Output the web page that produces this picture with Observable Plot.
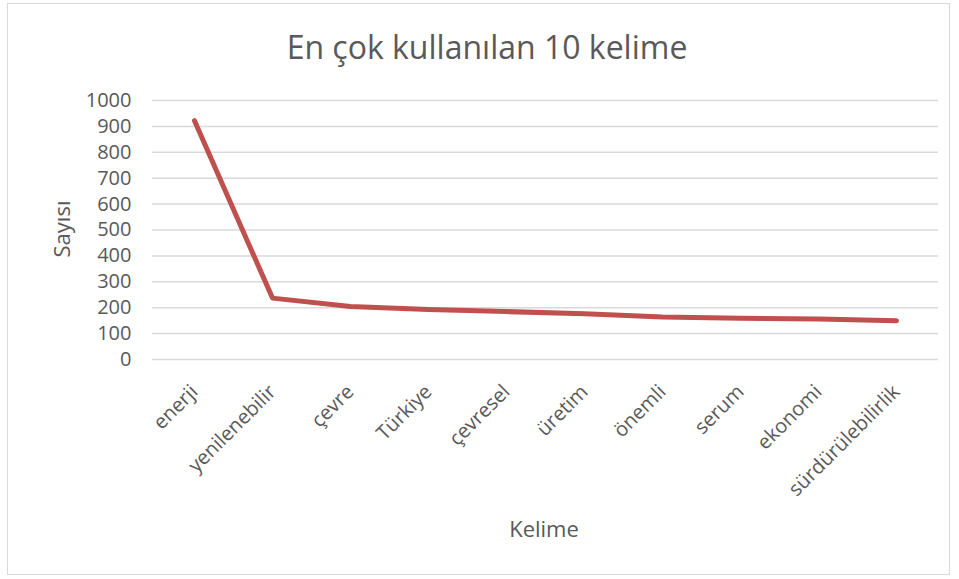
<!DOCTYPE html>
<html>
<head>
<meta charset="utf-8">
<script src="https://cdn.jsdelivr.net/npm/d3@7"></script>
<script src="https://cdn.jsdelivr.net/npm/@observablehq/plot@0.6"></script>
<style>
  html, body { margin: 0; padding: 0; background: #fff; }
  #wrap { position: relative; width: 959px; height: 579px; overflow: hidden; font-family: "Open Sans", sans-serif; color: #595959; }
  #border { position: absolute; left: 7px; top: 3px; width: 943px; height: 572px; border: 1.5px solid #d9d9d9; box-sizing: border-box; }
  #title { position: absolute; left: 0; width: 974px; top: 27px; text-align: center; font-size: 32px; line-height: 40px; color: #595959; }
  #ylab { position: absolute; left: 61px; top: 229px; transform: translate(-50%, -50%) rotate(-90deg); font-size: 22px; white-space: nowrap; }
  #xlab { position: absolute; left: 544px; top: 528px; transform: translate(-50%, -50%); font-size: 22px; white-space: nowrap; }
  #chart { position: absolute; left: 0; top: 0; }
</style>
</head>
<body>
<div id="wrap">
  <div id="border"></div>
  <div id="chart"></div>
  <div id="title">En çok kullanılan 10 kelime</div>
  <div id="ylab">Sayısı</div>
  <div id="xlab">Kelime</div>
</div>
<script>
const words = ["enerji", "yenilenebilir", "çevre", "Türkiye", "çevresel", "üretim", "önemli", "serum", "ekonomi", "sürdürülebilirlik"];
const counts = [922, 237, 205, 193, 185, 177, 164, 159, 156, 150];
const yTicks = [0, 100, 200, 300, 400, 500, 600, 700, 800, 900, 1000];

const data = words.map((w, i) => ({word: w, count: counts[i]}));

const chart = Plot.plot({
  width: 959,
  height: 579,
  marginLeft: 152,
  marginRight: 21,
  marginTop: 100,
  marginBottom: 220,
  style: {fontFamily: "'Open Sans', sans-serif", fontSize: "20px", color: "#595959", background: "transparent"},
  x: {type: "point", domain: words, padding: 0.5, label: null},
  y: {domain: [0, 1000], label: null},
  marks: [
    Plot.gridY(yTicks, {stroke: "#d9d9d9", strokeOpacity: 1, strokeWidth: 1.5}),
    Plot.axisY(yTicks, {tickSize: 0, tickPadding: 21, fontSize: 20, fill: "#595959", label: null, tickFormat: d => String(d)}),
    Plot.axisX(words, {tickSize: 0, tickRotate: -45, tickPadding: 29, fontSize: 20, fill: "#595959", label: null}),
    Plot.line(data, {x: "word", y: "count", stroke: "#c0504d", strokeWidth: 5, strokeLinecap: "round", strokeLinejoin: "round"})
  ]
});
document.getElementById("chart").appendChild(chart);
</script>
</body>
</html>
